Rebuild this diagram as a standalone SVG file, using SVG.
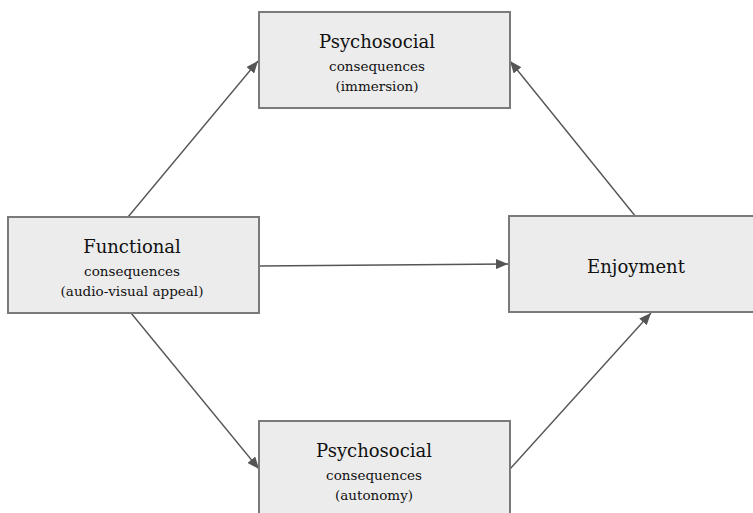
<svg xmlns="http://www.w3.org/2000/svg" width="753" height="513" viewBox="0 0 753 513">
  <style>
    .box { fill: #ececec; stroke: #7a7a7a; stroke-width: 2; }
    .t { fill: #111; text-anchor: middle; font-family: "DejaVu Serif", serif; }
    .big { font-size: 18px; }
    .small { font-size: 13.5px; }
    .edge { stroke: #555; stroke-width: 1.4; fill: none; marker-end: url(#ah); }
  </style>
  <defs>
    <marker id="ah" viewBox="0 0 12 10" refX="12" refY="5" markerWidth="12" markerHeight="10" markerUnits="userSpaceOnUse" orient="auto">
      <path d="M0,0 L12,5 L0,10 z" fill="#555"/>
    </marker>
  </defs>
  <rect width="753" height="513" fill="#ffffff"/>
  <g id="connectors">
    <line class="edge" x1="128" y1="217" x2="258" y2="61"/>
    <line class="edge" x1="259" y1="266" x2="508" y2="264"/>
    <line class="edge" x1="131" y1="313" x2="259" y2="469"/>
    <line class="edge" x1="510" y1="469" x2="651" y2="313"/>
    <line class="edge" x1="636" y1="217" x2="510" y2="61"/>
  </g>
  <g id="psychosocial-immersion">
    <rect class="box" x="259" y="12" width="251" height="96"/>
    <text class="t big" x="377" y="48">Psychosocial</text>
    <text class="t small" x="377" y="71">consequences</text>
    <text class="t small" x="377" y="91">(immersion)</text>
  </g>
  <g id="functional">
    <rect class="box" x="8" y="217" width="251" height="96"/>
    <text class="t big" x="132" y="253">Functional</text>
    <text class="t small" x="132" y="276">consequences</text>
    <text class="t small" x="132" y="296">(audio-visual appeal)</text>
  </g>
  <g id="enjoyment">
    <rect class="box" x="509" y="216" width="251" height="96"/>
    <text class="t big" x="636" y="273">Enjoyment</text>
  </g>
  <g id="psychosocial-autonomy">
    <rect class="box" x="259" y="421" width="251" height="96"/>
    <text class="t big" x="374" y="457">Psychosocial</text>
    <text class="t small" x="374" y="480">consequences</text>
    <text class="t small" x="374" y="500">(autonomy)</text>
  </g>
</svg>
